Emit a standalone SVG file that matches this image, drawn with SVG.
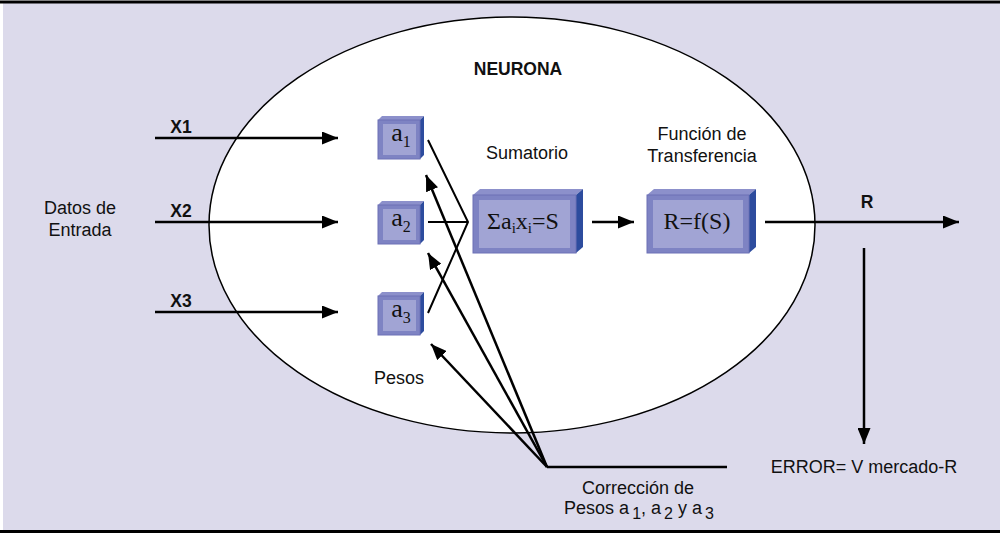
<svg xmlns="http://www.w3.org/2000/svg" width="1000" height="535" viewBox="0 0 1000 535">
<style>
.lbl{font-family:"Liberation Sans",Arial,sans-serif;font-size:18px;fill:#111;text-anchor:middle}
.bold{font-family:"Liberation Sans",Arial,sans-serif;font-size:17.5px;font-weight:bold;fill:#111;text-anchor:middle}
.math{font-family:"Liberation Serif","Times New Roman",serif;font-size:24px;fill:#111;text-anchor:middle}
.wt{font-size:26px}
.edge{stroke:#000;stroke-width:2.5;fill:none}
.thin{stroke:#000;stroke-width:2;fill:none}
.face{fill:#7E83C3;stroke:#6C71B6;stroke-width:1}
.inner{fill:#A1A4D4}
.top{fill:#8C90CB}
.side{fill:#2D4C9E}
</style>
<defs>
<marker id="ah" markerUnits="userSpaceOnUse" markerWidth="17" markerHeight="13" refX="16" refY="6.5" orient="auto">
<path d="M0,0 L16,6.5 L0,13 z" fill="#000"/>
</marker>
</defs>
<rect x="0" y="0" width="1000" height="535" fill="#fff"/>
<rect x="3" y="3" width="997" height="527" fill="#DCDAEB"/>
<line x1="0" y1="2" x2="1000" y2="2" stroke="#000" stroke-width="3"/>
<line x1="0" y1="531.5" x2="1000" y2="531.5" stroke="#000" stroke-width="3"/>

<g id="neurona">
<ellipse cx="512" cy="225" rx="303" ry="208" fill="#fff" stroke="#000" stroke-width="1.5"/>
<text class="bold" x="518" y="75" font-size="18">NEURONA</text>
</g>

<g id="entrada">
<text class="lbl" x="80" y="214">Datos de</text>
<text class="lbl" x="80" y="236">Entrada</text>
<text class="bold" x="181" y="133">X1</text>
<text class="bold" x="181" y="217">X2</text>
<text class="bold" x="181" y="307">X3</text>
</g>

<g id="a1">
<polygon class="top" points="378,120 382,116 424,116 420,120"/>
<polygon class="side" points="420,120 424,116 424,155 420,159"/>
<rect class="face" x="378" y="120" width="42" height="39"/>
<rect class="inner" x="383" y="124" width="33" height="31"/>
<text class="math wt" x="401" y="141">a<tspan font-size="16" baseline-shift="-6">1</tspan></text>
</g>
<g id="a2">
<polygon class="top" points="378,205 382,201 424,201 420,205"/>
<polygon class="side" points="420,205 424,201 424,240 420,244"/>
<rect class="face" x="378" y="205" width="42" height="39"/>
<rect class="inner" x="383" y="209" width="33" height="31"/>
<text class="math wt" x="401" y="226">a<tspan font-size="16" baseline-shift="-6">2</tspan></text>
</g>
<g id="a3">
<polygon class="top" points="378,296 382,292 424,292 420,296"/>
<polygon class="side" points="420,296 424,292 424,331 420,335"/>
<rect class="face" x="378" y="296" width="42" height="39"/>
<rect class="inner" x="383" y="300" width="33" height="31"/>
<text class="math wt" x="401" y="317">a<tspan font-size="16" baseline-shift="-6">3</tspan></text>
</g>
<text class="lbl" x="399" y="384">Pesos</text>

<g id="sumatorio">
<text class="lbl" x="527" y="159">Sumatorio</text>
<polygon class="top" points="473,195 480,189 583,189 576,195"/>
<polygon class="side" points="576,195 583,189 583,247 576,253"/>
<rect class="face" x="473" y="195" width="103" height="58"/>
<rect class="inner" x="479" y="200" width="91" height="48"/>
<text class="math" x="523" y="229">Σa<tspan font-size="15" baseline-shift="-4">i</tspan>x<tspan font-size="15" baseline-shift="-4">i</tspan>=S</text>
</g>

<g id="transferencia">
<text class="lbl" x="702" y="140">Función de</text>
<text class="lbl" x="702" y="162">Transferencia</text>
<polygon class="top" points="647,195 654,189 756,189 749,195"/>
<polygon class="side" points="749,195 756,189 756,247 749,253"/>
<rect class="face" x="647" y="195" width="102" height="58"/>
<rect class="inner" x="653" y="200" width="90" height="48"/>
<text class="math" x="697" y="229">R=f(S)</text>
</g>

<g id="salida">
<text class="bold" x="867" y="208">R</text>
<text class="lbl" x="864" y="473">ERROR= V mercado-R</text>
<text class="lbl" x="638" y="494">Corrección de</text>
<text class="lbl" x="639" y="514">Pesos a<tspan font-size="16" baseline-shift="-5" dx="3">1</tspan>, a<tspan font-size="16" baseline-shift="-5" dx="3">2</tspan> y a<tspan font-size="16" baseline-shift="-5" dx="3">3</tspan></text>
</g>

<g id="connectors">
<line class="edge" x1="155" y1="138" x2="338" y2="138" marker-end="url(#ah)"/>
<line class="edge" x1="155" y1="222" x2="338" y2="222" marker-end="url(#ah)"/>
<line class="edge" x1="155" y1="312" x2="338" y2="312" marker-end="url(#ah)"/>
<polyline class="thin" points="428,140 468,222 428,313"/>
<line class="thin" x1="428" y1="222" x2="468" y2="222"/>
<line class="edge" x1="592" y1="222" x2="634" y2="222" marker-end="url(#ah)"/>
<line class="edge" x1="765" y1="222" x2="959" y2="222" marker-end="url(#ah)"/>
<line class="edge" x1="864" y1="248" x2="864" y2="444" marker-end="url(#ah)"/>
<polyline class="edge" points="727,467 547,467"/>
<line class="edge" x1="547" y1="467" x2="426" y2="175" marker-end="url(#ah)"/>
<line class="edge" x1="547" y1="467" x2="428" y2="253" marker-end="url(#ah)"/>
<line class="edge" x1="547" y1="467" x2="431" y2="344" marker-end="url(#ah)"/>
</g>
</svg>
